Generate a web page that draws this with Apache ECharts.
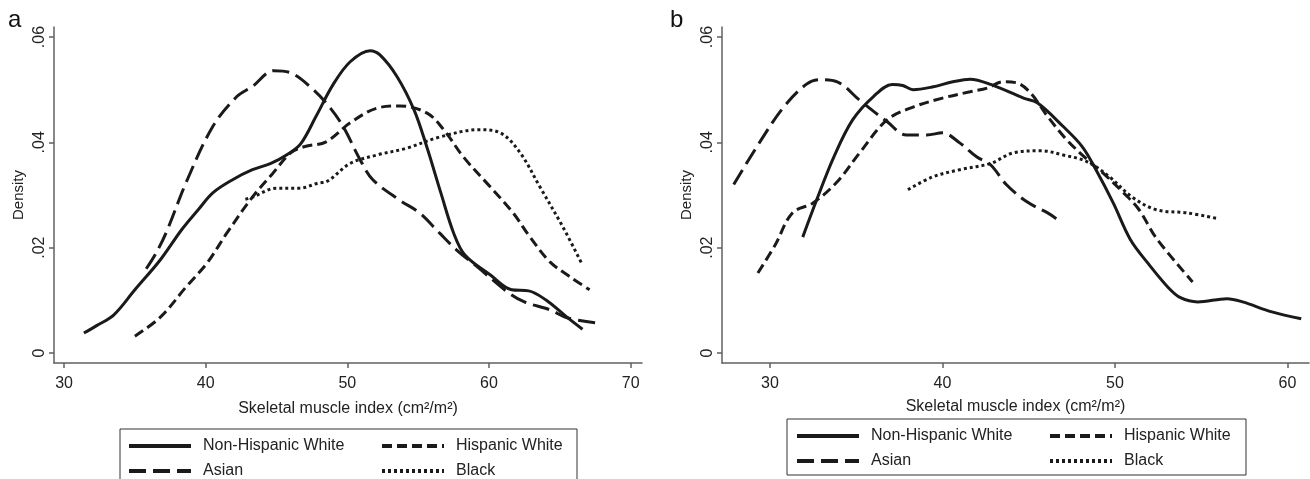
<!DOCTYPE html>
<html style="height: 100%">
<head>
<meta charset="UTF-8">
<title>Skeletal muscle index density</title>
<script src="https://cdn.jsdelivr.net/npm/echarts@6/dist/echarts.min.js"></script>
</head>
<body style="height: 100%; margin: 0; background: #fff">
<div id="container" style="width: 1310px; height: 479px"></div>
<script type="text/javascript">
// tick labels
var xTicksA = [30, 40, 50, 60, 70];
var xTicksB = [30, 40, 50, 60];
var yTicks = [0, 0.02, 0.04, 0.06];
var groups = ['Non-Hispanic White', 'Hispanic White', 'Asian', 'Black'];

// panel a: [SMI, density]
var nhwA = [[31.4,.0038],[32.3,.0052],[33.5,.0072],[35.0,.012],[36.8,.0177],[38.3,.0234],[39.5,.0273],
  [40.5,.0304],[41.9,.0329],[43.3,.0348],[44.6,.036],[45.7,.0376],[46.7,.0397],[47.8,.045],[49.0,.051],
  [50.2,.0553],[51.6,.0574],[52.3,.0566],[53.5,.0525],[54.7,.0462],[55.6,.0392],[56.6,.0304],[57.5,.0228],
  [58.3,.0186],[60.1,.0148],[61.6,.012],[62.8,.0118],[64.0,.0101],[65.5,.0068],[66.6,.0045]];
var hispA = [[35.0,.0032],[36.8,.0068],[38.6,.0125],[40.1,.0171],[41.5,.0228],[43.3,.0296],[44.7,.034],
  [46.0,.038],[47.0,.0392],[48.5,.0401],[50.2,.0437],[52.1,.0465],[53.7,.0469],[55.6,.0456],[56.8,.0424],
  [58.2,.0372],[60.1,.0315],[61.7,.0266],[62.9,.022],[64.3,.0173],[65.7,.0145],[67.1,.012]];
var asianA = [[35.8,.016],[36.5,.019],[37.2,.0228],[38.7,.0329],[40.5,.043],[42.2,.0487],[43.3,.0506],
  [44.8,.0536],[46.0,.0532],[47.6,.050],[48.8,.0465],[49.7,.043],[50.9,.0367],[51.8,.0329],[53.7,.029],
  [55.1,.0266],[56.5,.0228],[57.7,.0196],[59.2,.0163],[61.3,.0116],[62.5,.0097],[64.3,.0082],[65.5,.0067],
  [67.6,.0057]];
var blackA = [[42.8,.0292],[43.3,.0296],[45.0,.0313],[46.6,.0313],[48.0,.0323],[48.5,.0325],[50.2,.036],
  [52.1,.0376],[54.2,.0389],[56.5,.041],[59.3,.0424],[60.8,.0418],[62.2,.038],[63.6,.0315],[65.2,.024],
  [66.6,.0167]];

// panel b
var nhwB = [[31.9,.022],[32.7,.029],[33.7,.0372],[34.8,.0443],[36.0,.0487],[37.1,.051],[37.7,.0508],
  [38.3,.050],[39.4,.0505],[40.6,.0515],[41.6,.052],[42.8,.051],[44.7,.0484],[45.5,.0475],[47.0,.043],
  [48.1,.0392],[48.9,.0348],[49.9,.0285],[50.9,.0215],[51.9,.0171],[53.1,.0124],[53.8,.0105],[54.8,.0097],
  [56.5,.0103],[57.4,.0097],[59.1,.0078],[60.8,.0065]];
var hispB = [[29.3,.0152],[30.3,.0205],[31.3,.0266],[32.5,.0285],[33.9,.0325],[35.2,.038],[36.8,.0443],
  [38.3,.0467],[40.0,.0484],[41.6,.0496],[42.6,.0503],[43.5,.0515],[44.3,.0513],[45.1,.0494],[46.1,.0449],
  [47.2,.0405],[48.4,.0367],[49.3,.0342],[50.5,.0304],[51.4,.0272],[52.4,.0218],[54.5,.0135]];
var asianB = [[27.9,.032],[29.4,.040],[30.8,.0467],[32.1,.051],[32.9,.0519],[33.9,.0515],[35.2,.048],
  [36.8,.0439],[37.9,.0414],[39.1,.0414],[40.0,.0418],[41.0,.0399],[42.0,.0372],[42.8,.0357],[43.7,.032],
  [44.9,.0287],[46.1,.0266],[46.6,.0255]];
var blackB = [[38.0,.031],[39.4,.0334],[41.0,.0348],[42.8,.036],[44.1,.038],[45.7,.0384],[47.0,.0376],
  [48.4,.0363],[49.7,.0334],[51.0,.0296],[52.4,.0272],[54.2,.0266],[56.0,.0255]];

var font = "'Liberation Sans', Arial, sans-serif";
var ink = '#1a1a1a';
var axisGrey = '#606060';
// line pattern per group
var dashes = {
  'Non-Hispanic White': 'solid',
  'Hispanic White': [10, 5],
  'Asian': [17, 7],
  'Black': [3, 3]
};

var dom = document.getElementById('container');
var myChart = echarts.init(dom, null, {renderer: 'canvas'});

function xAxisFor(idx, min, max, ticks, gap) {
  return {
    type: 'value', gridIndex: idx, min: min, max: max,
    name: 'Skeletal muscle index (cm²/m²)', nameLocation: 'middle', nameGap: gap,
    nameTextStyle: {fontFamily: font, fontSize: 16, color: '#222'},
    splitLine: {show: false},
    axisLine: {onZero: false, lineStyle: {color: axisGrey, width: 1.5}},
    axisTick: {customValues: ticks, length: 5, lineStyle: {color: axisGrey, width: 1.5}},
    axisLabel: {customValues: ticks, margin: 13, fontFamily: font, fontSize: 16, color: '#222'}
  };
}
function yAxisFor(idx) {
  return {
    type: 'value', gridIndex: idx, min: -0.0019, max: 0.0619,
    name: 'Density', nameLocation: 'middle', nameGap: 28,
    nameTextStyle: {fontFamily: font, fontSize: 15, color: '#222'},
    splitLine: {show: false},
    axisLine: {onZero: false, lineStyle: {color: axisGrey, width: 1.5}},
    axisTick: {customValues: yTicks, length: 5, lineStyle: {color: axisGrey, width: 1.5}},
    axisLabel: {
      customValues: yTicks, rotate: 90, margin: 6, fontFamily: font, fontSize: 16, color: '#222',
      formatter: function (v) { return v === 0 ? '0' : v.toFixed(2).replace('0.', '.'); }
    }
  };
}
function curve(name, data, idx) {
  return {
    name: name, type: 'line', xAxisIndex: idx, yAxisIndex: idx,
    data: data, smooth: 0.35, symbol: 'none', showSymbol: false, silent: true,
    lineStyle: {color: ink, width: 3, type: dashes[name]},
    itemStyle: {color: ink}
  };
}
function legendCol(left, top, names) {
  return {
    orient: 'vertical', left: left, top: top, data: names,
    itemWidth: 62, itemHeight: 14, itemGap: 9, padding: 0,
    selectedMode: false,
    itemStyle: {opacity: 0},
    lineStyle: {width: 4},
    textStyle: {fontFamily: font, fontSize: 16, color: '#222', padding: [0, 0, 0, 7]}
  };
}

var option = {
  animation: false,
  backgroundColor: '#fff',
  grid: [
    {left: 54, top: 27, width: 588, height: 336},
    {left: 722, top: 27, width: 587, height: 336}
  ],
  xAxis: [xAxisFor(0, 29.29, 70.8, xTicksA, 38), xAxisFor(1, 27.22, 61.25, xTicksB, 36)],
  yAxis: [yAxisFor(0), yAxisFor(1)],
  legend: [
    legendCol(127, 438, ['Non-Hispanic White', 'Asian']),
    legendCol(380, 438, ['Hispanic White', 'Black']),
    legendCol(795, 428, ['Non-Hispanic White', 'Asian']),
    legendCol(1048, 428, ['Hispanic White', 'Black'])
  ],
  graphic: [
    {type: 'text', left: 8, top: 8, style: {text: 'a', font: '24px ' + font, fill: '#111'}},
    {type: 'text', left: 670, top: 8, style: {text: 'b', font: '24px ' + font, fill: '#111'}},
    {type: 'rect', shape: {x: 120, y: 429, width: 457, height: 60}, style: {fill: 'none', stroke: '#333', lineWidth: 1}},
    {type: 'rect', shape: {x: 787, y: 419, width: 459, height: 56}, style: {fill: 'none', stroke: '#333', lineWidth: 1}}
  ],
  series: [
    curve('Non-Hispanic White', nhwA, 0),
    curve('Hispanic White', hispA, 0),
    curve('Asian', asianA, 0),
    curve('Black', blackA, 0),
    curve('Non-Hispanic White', nhwB, 1),
    curve('Hispanic White', hispB, 1),
    curve('Asian', asianB, 1),
    curve('Black', blackB, 1)
  ]
};

myChart.setOption(option);
</script>
</body>
</html>
